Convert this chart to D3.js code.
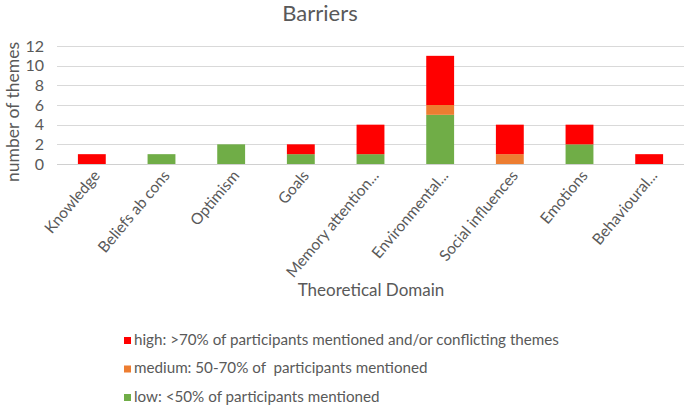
<!DOCTYPE html>
<html>
<head>
<meta charset="utf-8">
<title>Barriers</title>
<script src="https://d3js.org/d3.v7.min.js"></script>
<style>
  body { margin: 0; background: #fff; }
  text { font-family: Lato, "Open Sans", sans-serif; fill: #595959; white-space: pre; }
</style>
</head>
<body>
<script>
// chart values
var categories = ["Knowledge", "Beliefs ab cons", "Optimism", "Goals", "Memory attention...",
                  "Environmental...", "Social influences", "Emotions", "Behavioural..."];
var low    = [0, 1, 2, 1, 1, 5, 0, 2, 0];
var medium = [0, 0, 0, 0, 0, 1, 1, 0, 0];
var high   = [1, 0, 0, 1, 3, 5, 3, 2, 1];
var yTicks = [0, 2, 4, 6, 8, 10, 12];
var seriesKeys = ["low", "medium", "high"];
var legendLabels = ["high: >70% of participants mentioned and/or conflicting themes",
                    "medium: 50-70% of  participants mentioned",
                    "low: <50% of participants mentioned"];
var colors = {low: "#70AD47", medium: "#ED7D31", high: "#FF0000"};

var width = 685, height = 414;
var margin = {left: 57, right: 1, top: 46, bottom: 250};

var rows = categories.map(function(c, i) {
  return {cat: c, low: low[i], medium: medium[i], high: high[i]};
});

var svg = d3.select("body").append("svg")
  .attr("width", width).attr("height", height);

var x = d3.scaleBand().domain(categories)
  .range([margin.left, width - margin.right]).paddingInner(0.6).paddingOuter(0.3);
var y = d3.scaleLinear().domain([0, 12]).range([164, 46]);

// gridlines
svg.append("g").selectAll("line").data(yTicks).enter().append("line")
  .attr("x1", margin.left).attr("x2", width - margin.right)
  .attr("y1", function(d){ return Math.round(y(d)) + 0.5; })
  .attr("y2", function(d){ return Math.round(y(d)) + 0.5; })
  .attr("stroke", function(d){ return d === 0 ? "#d0d0d0" : "#d9d9d9"; })
  .attr("stroke-width", 1);

// y tick labels
var yAxis = svg.append("g").attr("transform", "translate(" + (margin.left - 13) + ",0)")
  .call(d3.axisLeft(y).tickValues(yTicks).tickSize(0).tickPadding(0));
yAxis.select(".domain").remove();
yAxis.selectAll("text").style("font-size", "16px").style("font-family", "Lato").attr("fill", "#595959");

// stacked bars
var stack = d3.stack().keys(seriesKeys)(rows);
svg.append("g").selectAll("g").data(stack).enter().append("g")
  .attr("fill", function(d){ return colors[d.key]; })
  .selectAll("rect").data(function(d){ return d; }).enter()
  .filter(function(d){ return d[1] - d[0] > 0; })
  .append("rect")
  .attr("x", function(d){ return x(d.data.cat); })
  .attr("width", x.bandwidth())
  .attr("y", function(d){ return y(d[1]); })
  .attr("height", function(d){ return y(d[0]) - y(d[1]); });

// category labels
svg.append("g").selectAll("text").data(categories).enter().append("text")
  .attr("transform", function(d){
    return "translate(" + (x(d) + x.bandwidth() / 2 + 9) + ",176) rotate(-50)";
  })
  .attr("text-anchor", "end")
  .style("font-size", "15.5px")
  .text(function(d){ return d; });

// title
svg.append("text").attr("x", 320).attr("y", 21).attr("text-anchor", "middle")
  .style("font-size", "22px").text("Barriers");

// axis titles
svg.append("text")
  .attr("transform", "translate(19,112) rotate(-90)")
  .attr("text-anchor", "middle")
  .style("font-size", "17.5px").text("number of themes");

svg.append("text").attr("x", 371).attr("y", 296).attr("text-anchor", "middle")
  .style("font-size", "17px").text("Theoretical Domain");

// legend
var legend = svg.append("g").selectAll("g").data(["high", "medium", "low"]).enter().append("g")
  .attr("transform", function(d, i){ return "translate(124," + (337 + i * 28.5) + ")"; });
legend.append("rect").attr("width", 7).attr("height", 7)
  .attr("fill", function(d){ return colors[d]; });
legend.append("text").attr("x", 10).attr("y", 7.5)
  .style("font-size", "15.2px")
  .text(function(d, i){ return legendLabels[i]; });
</script>
</body>
</html>
